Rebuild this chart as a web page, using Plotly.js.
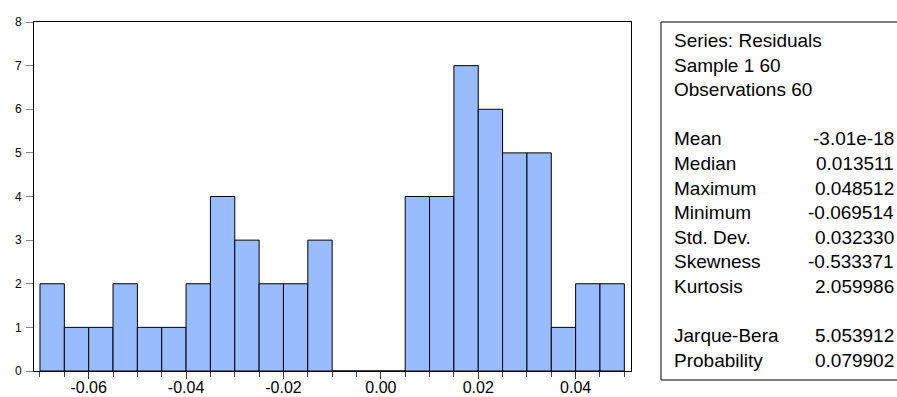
<!DOCTYPE html>
<html>
<head>
<meta charset="utf-8">
<script src="https://cdn.plot.ly/plotly-3.0.1.min.js"></script>
<style>
  html, body { margin: 0; padding: 0; background: #ffffff; }
  #chart { width: 897px; height: 397px; }
</style>
</head>
<body>
<div id="chart"></div>
<script>
// Histogram bins (centers) and counts
const binCenters = [-0.0675, -0.0625, -0.0575, -0.0525, -0.0475, -0.0425, -0.0375, -0.0325,
                    -0.0275, -0.0225, -0.0175, -0.0125, -0.0075, -0.0025, 0.0025, 0.0075,
                    0.0125, 0.0175, 0.0225, 0.0275, 0.0325, 0.0375, 0.0425, 0.0475];
const counts = [2, 1, 1, 2, 1, 1, 2, 4, 3, 2, 2, 3, 0, 0, 0, 4, 4, 7, 6, 5, 5, 1, 2, 2];
const binWidth = 0.005;

// Tick values/labels
const xTickVals = [-0.06, -0.04, -0.02, 0.00, 0.02, 0.04];
const xTickText = ['-0.06', '-0.04', '-0.02', '0.00', '0.02', '0.04'];
const yTickVals = [0, 1, 2, 3, 4, 5, 6, 7, 8];

// Statistics panel
const headerLines = ['Series: Residuals', 'Sample 1 60', 'Observations 60'];
const statLabels = ['Mean', 'Median', 'Maximum', 'Minimum', 'Std. Dev.', 'Skewness', 'Kurtosis', '', 'Jarque-Bera', 'Probability'];
const statValues = ['-3.01e-18', '0.013511', '0.048512', '-0.069514', '0.032330', '-0.533371', '2.059986', '', '5.053912', '0.079902'];

const FONT = 'Liberation Sans, Arial, sans-serif';

// geometry helpers (pixel -> paper) for the side panel
const L = 34, R = 266, T = 22, B = 26, W = 897, H = 397;
const pw = W - L - R, ph = H - T - B;
const px2x = p => (p - L) / pw;
const py2y = p => (H - B - p) / ph;

const annotations = [];
const lineStep = 24.6;
const firstLineY = 40.5;
const allLabels = headerLines.concat(['']).concat(statLabels);
const allValues = headerLines.map(() => '').concat(['']).concat(statValues);
allLabels.forEach((lab, i) => {
  const y = py2y(firstLineY + i * lineStep);
  if (lab) annotations.push({
    xref: 'paper', yref: 'paper', x: px2x(672), y: y, xanchor: 'left', yanchor: 'middle',
    text: lab, showarrow: false, font: {family: FONT, size: 19, color: '#000'}
  });
  const v = allValues[i];
  if (v) annotations.push({
    xref: 'paper', yref: 'paper', x: px2x(896), y: y, xanchor: 'right', yanchor: 'middle',
    text: v, showarrow: false, font: {family: FONT, size: 19, color: '#000'}
  });
});

const data = [{
  type: 'bar',
  x: binCenters,
  y: counts,
  width: binCenters.map(() => binWidth),
  marker: {color: '#99bbff', line: {color: '#000000', width: 1}},
  hoverinfo: 'x+y'
}];

const layout = {
  width: W, height: H,
  margin: {l: L, r: R, t: T, b: B, pad: 0},
  paper_bgcolor: '#ffffff',
  plot_bgcolor: '#ffffff',
  showlegend: false,
  bargap: 0,
  xaxis: {
    range: [-0.07123, 0.05137],
    tickvals: xTickVals, ticktext: xTickText,
    ticks: 'outside', ticklen: 7, tickwidth: 1, tickcolor: '#333',
    minor: {dtick: 0.005, tick0: 0, ticks: 'outside', ticklen: 5, tickwidth: 1, tickcolor: '#444', showgrid: false},
    showgrid: false, zeroline: false,
    showline: true, linecolor: '#000', linewidth: 1, mirror: true,
    tickfont: {family: FONT, size: 16, color: '#000'},
    ticklabelstandoff: -5
  },
  yaxis: {
    range: [0, 8],
    tickvals: yTickVals,
    ticks: 'outside', ticklen: 7, tickwidth: 1, tickcolor: '#888',
    showgrid: false, zeroline: false,
    showline: true, linecolor: '#000', linewidth: 1, mirror: true,
    tickfont: {family: FONT, size: 12, color: '#000'},
    ticklabelstandoff: 2
  },
  shapes: [{
    type: 'rect', xref: 'paper', yref: 'paper',
    x0: px2x(661), x1: px2x(905), y0: py2y(380), y1: py2y(22),
    line: {color: '#000', width: 1}, fillcolor: 'rgba(0,0,0,0)'
  }],
  annotations: annotations
};

Plotly.newPlot('chart', data, layout, {displayModeBar: false, staticPlot: true});
</script>
</body>
</html>
